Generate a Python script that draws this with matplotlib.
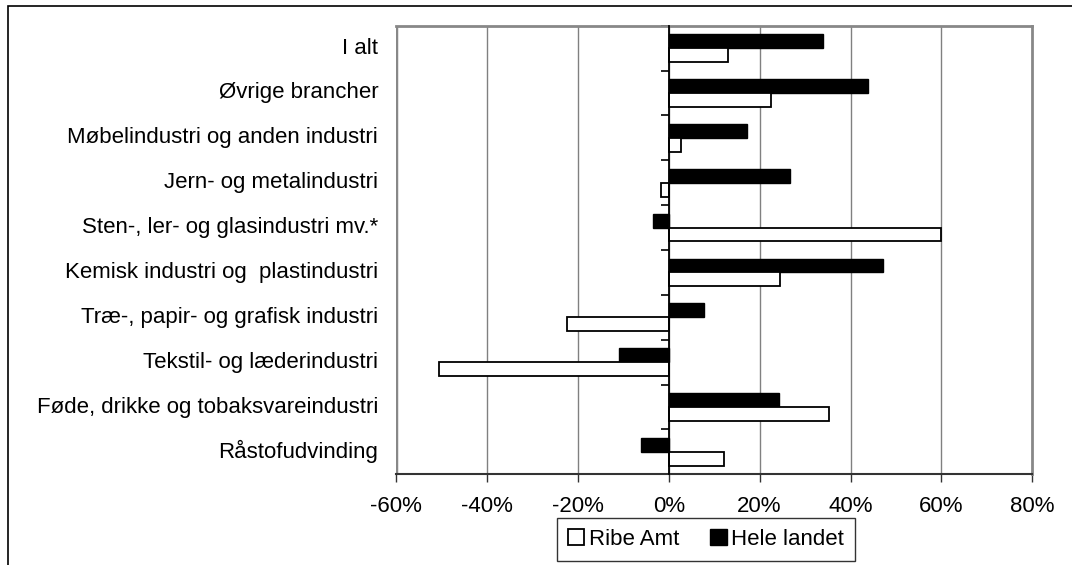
import numpy as np
import matplotlib
matplotlib.use('Agg')
import matplotlib.pyplot as plt
import matplotlib.transforms as mtransforms
from matplotlib.patches import Rectangle, Patch

plt.rcParams['font.family'] = ['Liberation Sans', 'DejaVu Sans']

# Data (percent change), top to bottom as in the chart
categories = ['I alt', 'Øvrige brancher', 'Møbelindustri og anden industri',
              'Jern- og metalindustri', 'Sten-, ler- og glasindustri mv.*',
              'Kemisk industri og  plastindustri', 'Træ-, papir- og grafisk industri',
              'Tekstil- og læderindustri', 'Føde, drikke og tobaksvareindustri',
              'Råstofudvinding']
ribe_amt = [13.0, 22.5, 2.6, -1.8, 60.0, 24.4, -22.4, -50.5, 35.3, 12.2]
hele_landet = [34.0, 43.9, 17.2, 26.7, -3.5, 47.2, 7.8, -10.9, 24.3, -6.2]
x_ticks = [-60, -40, -20, 0, 20, 40, 60, 80]

W, H = 1072, 565
FS = 16
fig = plt.figure(figsize=(W / 100, H / 100), dpi=100)
ax = fig.add_axes([396 / W, 1 - 474.3 / H, (1032.3 - 396) / W, (474.3 - 25.7) / H])

y = np.arange(len(categories))
bar_h = 0.31
ax.barh(y - bar_h / 2, hele_landet, height=bar_h, color='black', edgecolor='black',
        linewidth=1.0, zorder=3)
ax.barh(y + bar_h / 2, ribe_amt, height=bar_h, color='white', edgecolor='black',
        linewidth=1.3, zorder=3)

ax.set_xlim(x_ticks[0], x_ticks[-1])
ax.set_ylim(len(categories) - 0.5, -0.5)
ax.set_xticks(x_ticks)
ax.set_xticklabels([f'{t}%' for t in x_ticks], fontsize=FS)
ax.tick_params(axis='x', direction='out', length=6, width=1, pad=9.5, color='#333333')

# gridlines
for t in x_ticks[1:-1]:
    ax.axvline(t, color='#808080', linewidth=1.0, zorder=1)

# plot frame: gray sides, black bottom
for side in ['top', 'right']:
    ax.spines[side].set_color('#888888')
    ax.spines[side].set_linewidth(2.0)
ax.spines['bottom'].set_color('#333333')
ax.spines['bottom'].set_linewidth(1.5)
ax.axvline(x_ticks[0], color='#888888', linewidth=2.5, zorder=2)

# category axis crossing at 0
ax.spines['left'].set_position(('data', 0))
ax.spines['left'].set_color('black')
ax.spines['left'].set_linewidth(1.3)
ax.spines['left'].set_zorder(4)
ax.set_yticks(np.arange(len(categories) + 1) - 0.5)
ax.set_yticklabels([])
ax.tick_params(axis='y', direction='out', length=6, width=1.2, color='black')

# category labels at the left edge of the plot
trans = mtransforms.blended_transform_factory(ax.transAxes, ax.transData)
for i, name in enumerate(categories):
    ax.text(-0.028, i, name, transform=trans, ha='right', va='center', fontsize=FS)

# legend
handles = [Patch(facecolor='white', edgecolor='black', linewidth=1.3, label='Ribe Amt'),
           Patch(facecolor='black', edgecolor='black', label='Hele landet')]
leg = fig.legend(handles=handles, loc='center', bbox_to_anchor=(706 / W, 1 - 539.3 / H),
                 ncol=2, fontsize=FS, frameon=True, fancybox=False, shadow=False,
                 handlelength=0.75, handleheight=0.75, handletextpad=0.2,
                 columnspacing=1.4, borderpad=0.5)
leg.get_frame().set_edgecolor('black')
leg.get_frame().set_linewidth(1.0)

# outer chart border (cropped at right and bottom)
fig.add_artist(Rectangle((8 / W, -0.1), 1.2, 1 - 6.5 / H + 0.1, transform=fig.transFigure,
                         fill=False, edgecolor='black', linewidth=1.2))

fig.savefig('out.png', dpi=100, facecolor='white')
